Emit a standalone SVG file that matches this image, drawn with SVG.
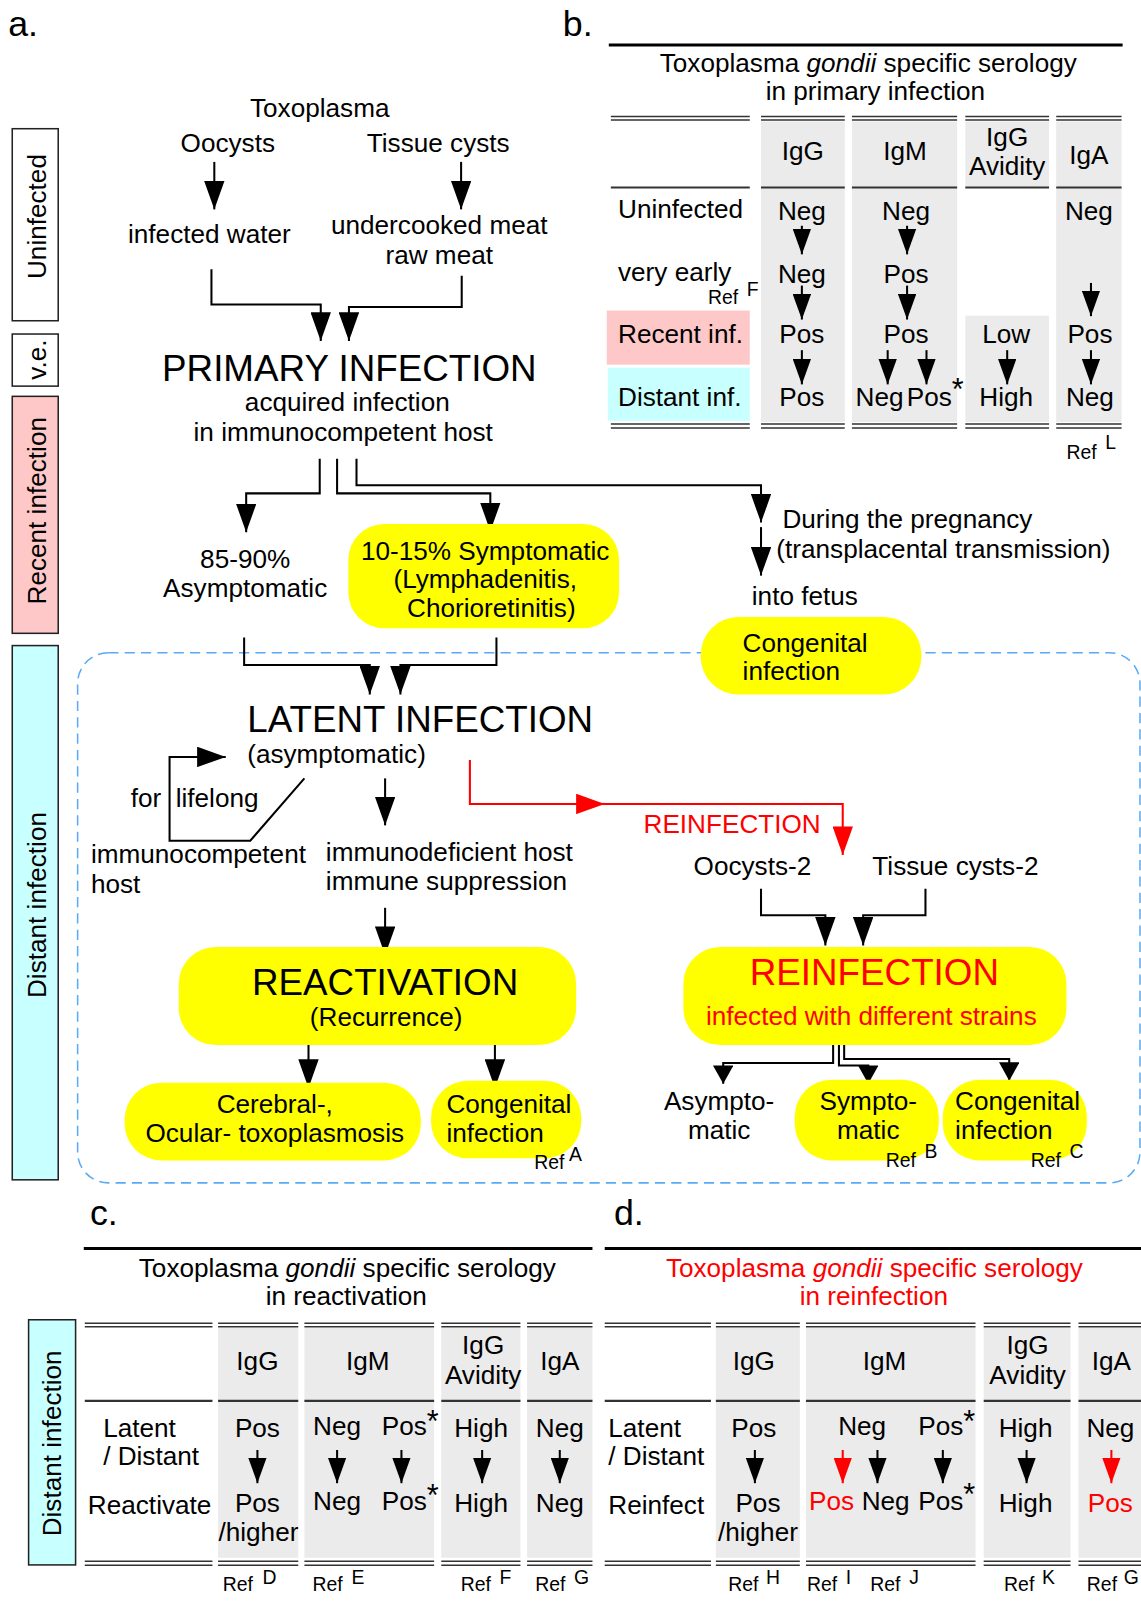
<svg xmlns="http://www.w3.org/2000/svg" width="1141" height="1601" viewBox="0 0 1141 1601">
<style>
.t{font-family:"Liberation Sans",Arial,Helvetica,sans-serif;font-size:25.6px;fill:#000}
.m{text-anchor:middle}
.big{font-size:36px}
.lab{font-size:35px}
.ref{font-size:19px}
.ast{font-size:30px}
.red{fill:#f00}
.ln{stroke:#000;stroke-width:2;fill:none}
.lr{stroke:#f00;stroke-width:2;fill:none}
.dl{stroke:#333;stroke-width:1.5;fill:none}
.hl{stroke:#333;stroke-width:2;fill:none}
.top{stroke:#000;stroke-width:3;fill:none}
.gray{fill:#ebebeb}
.yel{fill:#ffff00}
.side{stroke:#222;stroke-width:1.5}
</style>
<defs>
<marker id="ah" markerUnits="userSpaceOnUse" viewBox="0 0 28 20" refX="28" refY="10" markerWidth="28" markerHeight="20" orient="auto"><path d="M0,0 L28,10 L0,20 z" fill="#000"/></marker>
<marker id="ahr" markerUnits="userSpaceOnUse" viewBox="0 0 28 20" refX="28" refY="10" markerWidth="28" markerHeight="20" orient="auto"><path d="M0,0 L28,10 L0,20 z" fill="#f00"/></marker>
<marker id="ab" markerUnits="userSpaceOnUse" viewBox="0 0 18 20" refX="18" refY="10" markerWidth="18" markerHeight="20" orient="auto"><path d="M0,0 L18,10 L0,20 z" fill="#000"/></marker>
<marker id="as" markerUnits="userSpaceOnUse" viewBox="0 0 25 18" refX="25" refY="9" markerWidth="25" markerHeight="18" orient="auto"><path d="M0,0 L25,9 L0,18 z" fill="#000"/></marker>
<marker id="asr" markerUnits="userSpaceOnUse" viewBox="0 0 25 18" refX="25" refY="9" markerWidth="25" markerHeight="18" orient="auto"><path d="M0,0 L25,9 L0,18 z" fill="#f00"/></marker>
</defs>
<rect width="1141" height="1601" fill="#fff"/>
<g transform="scale(1.02149)">

<!-- panel labels -->
<text class="t lab" x="8" y="35">a.</text>
<text class="t lab" x="551" y="35">b.</text>
<text class="t lab" x="88" y="1199">c.</text>
<text class="t lab" x="601" y="1199">d.</text>

<!-- side stage boxes -->
<g id="stage-uninfected"><rect class="side" x="12" y="126" width="45" height="188" fill="#fff"/><text class="t m" transform="translate(45,212) rotate(-90)">Uninfected</text></g>
<g id="stage-ve"><rect class="side" x="12" y="327" width="45" height="51" fill="#fff"/><text class="t m" transform="translate(45,352) rotate(-90)">v.e.</text></g>
<g id="stage-recent"><rect class="side" x="12" y="388" width="45" height="232" fill="#ffc8c8"/><text class="t m" transform="translate(45,500) rotate(-90)">Recent infection</text></g>
<g id="stage-distant"><rect class="side" x="12" y="632" width="45" height="523" fill="#c8ffff"/><text class="t m" transform="translate(45,886) rotate(-90)">Distant infection</text></g>

<!-- dashed distant region -->
<rect x="76" y="639" width="1040" height="519" rx="30" fill="none" stroke="#5aaaf5" stroke-width="1.5" stroke-dasharray="10 6"/>

<!-- connectors -->
<g id="connectors">
<path class="ln" d="M209.8,158.5 V205" marker-end="url(#ah)"/>
<path class="ln" d="M451.4,158.5 V205" marker-end="url(#ah)"/>
<path class="ln" d="M207,263.6 V298 H314 V333.8" marker-end="url(#ah)"/>
<path class="ln" d="M452,270 V300.5 H341.6 V333.8" marker-end="url(#ah)"/>
<path class="ln" d="M313,449 V483 H241 V521" marker-end="url(#ah)"/>
<path class="ln" d="M330,449 V483 H480 V520" marker-end="url(#ah)"/>
<path class="ln" d="M349,449 V475 H745 V511.6" marker-end="url(#ah)"/>
<path class="ln" d="M745,516 V563.5" marker-end="url(#ah)"/>
<path class="ln" d="M239,624 V651 H362 V680" marker-end="url(#ah)"/>
<path class="ln" d="M486,624 V651 H392 V680" marker-end="url(#ah)"/>
<path class="ln" d="M298,762 L245,823 H166 V741 H221" marker-end="url(#ah)"/>
<path class="ln" d="M377,762 V808" marker-end="url(#ah)"/>
<path class="lr" d="M460,744 V787 H825 V837" marker-end="url(#ahr)"/>
<path class="lr" d="M570,787 H592" marker-end="url(#ahr)"/>
<path class="ln" d="M377,888.7 V935" marker-end="url(#ah)"/>
<path class="ln" d="M302,1018 V1065" marker-end="url(#ah)"/>
<path class="ln" d="M484.5,1018 V1065" marker-end="url(#ah)"/>
<path class="ln" d="M745,870 V896 H808 V925.7" marker-end="url(#ah)"/>
<path class="ln" d="M906,870 V896 H845 V925.7" marker-end="url(#ah)"/>
<path class="ln" d="M815.6,1023 V1040.7 H708 V1061" marker-end="url(#ab)"/>
<path class="ln" d="M821.3,1023 V1043 H850 V1061" marker-end="url(#ab)"/>
<path class="ln" d="M826.4,1023 V1036.8 H988 V1058" marker-end="url(#ab)"/>
</g>

<!-- panel a nodes -->
<g id="n-toxo"><text class="t m" x="313" y="115">Toxoplasma</text></g>
<g id="n-oocysts"><text class="t m" x="223" y="149">Oocysts</text></g>
<g id="n-tissue"><text class="t m" x="429" y="149">Tissue cysts</text></g>
<g id="n-water"><text class="t m" x="205" y="238">infected water</text></g>
<g id="n-meat"><text class="t m" x="430" y="229">undercooked meat</text><text class="t m" x="430" y="258">raw meat</text></g>
<g id="n-primary"><text class="t m big" x="342" y="373">PRIMARY INFECTION</text><text class="t m" x="340" y="402">acquired infection</text><text class="t m" x="336" y="432">in immunocompetent host</text></g>
<g id="n-asym"><text class="t m" x="240" y="556">85-90%</text><text class="t m" x="240" y="584">Asymptomatic</text></g>
<g id="n-sym"><rect class="yel" x="341" y="513" width="265" height="102" rx="35"/><text class="t m" x="475" y="548">10-15% Symptomatic</text><text class="t m" x="475" y="576">(Lymphadenitis,</text><text class="t m" x="481" y="604">Chorioretinitis)</text></g>
<g id="n-preg"><text class="t" x="766" y="517">During the pregnancy</text><text class="t" x="760" y="546">(transplacental transmission)</text><text class="t" x="736" y="592">into fetus</text></g>
<g id="n-cong1"><rect class="yel" x="686" y="604" width="216" height="76" rx="37"/><text class="t" x="727" y="638">Congenital</text><text class="t" x="727" y="666">infection</text></g>
<g id="n-latent"><text class="t big" x="242" y="717">LATENT INFECTION</text><text class="t" x="242" y="747">(asymptomatic)</text></g>
<g id="n-lifelong"><text class="t" x="128" y="790">for</text><text class="t" x="172" y="790">lifelong</text></g>
<g id="n-immcomp"><text class="t" x="89" y="845">immunocompetent</text><text class="t" x="89" y="874">host</text></g>
<g id="n-immdef"><text class="t" x="319" y="843">immunodeficient host</text><text class="t" x="319" y="871">immune suppression</text></g>
<g id="n-reinf-label"><text class="t red" x="630" y="815">REINFECTION</text></g>
<g id="n-oocysts2"><text class="t" x="679" y="857">Oocysts-2</text></g>
<g id="n-tissue2"><text class="t" x="854" y="857">Tissue cysts-2</text></g>
<g id="n-react"><rect class="yel" x="175" y="927" width="389" height="96" rx="36"/><text class="t m big" x="377" y="974">REACTIVATION</text><text class="t m" x="378" y="1004">(Recurrence)</text></g>
<g id="n-cerebral"><rect class="yel" x="122" y="1060" width="290" height="76" rx="36"/><text class="t m" x="269" y="1090">Cerebral-,</text><text class="t m" x="269" y="1118">Ocular- toxoplasmosis</text></g>
<g id="n-cong2"><rect class="yel" x="422" y="1058" width="147" height="76" rx="36"/><text class="t" x="437" y="1090">Congenital</text><text class="t" x="437" y="1118">infection</text><text class="t ref" x="523" y="1144">Ref</text><text class="t ref" x="557" y="1137">A</text></g>
<g id="n-reinf"><rect class="yel" x="669" y="927" width="375" height="96" rx="36"/><text class="t m big red" x="856" y="964">REINFECTION</text><text class="t m red" x="853" y="1003">infected with different strains</text></g>
<g id="n-asym2"><text class="t m" x="704" y="1087">Asympto-</text><text class="t m" x="704" y="1115">matic</text></g>
<g id="n-sym2"><rect class="yel" x="778" y="1057" width="141" height="79" rx="36"/><text class="t m" x="850" y="1087">Sympto-</text><text class="t m" x="850" y="1115">matic</text><text class="t ref" x="867" y="1142">Ref</text><text class="t ref" x="905" y="1134">B</text></g>
<g id="n-cong3"><rect class="yel" x="923" y="1057" width="141" height="79" rx="36"/><text class="t" x="935" y="1087">Congenital</text><text class="t" x="935" y="1115">infection</text><text class="t ref" x="1009" y="1142">Ref</text><text class="t ref" x="1047" y="1134">C</text></g>

<!-- table b -->
<g id="table-b">
<path class="top" d="M596,44 H1099"/>
<text class="t m" x="850" y="70">Toxoplasma <tspan font-style="italic">gondii</tspan> specific serology</text>
<text class="t m" x="857" y="98">in primary infection</text>
<rect class="gray" x="745" y="119" width="82" height="294"/>
<rect class="gray" x="834" y="119" width="103" height="294"/>
<rect class="gray" x="945" y="119" width="82" height="64"/>
<rect class="gray" x="945" y="309" width="82" height="104"/>
<rect class="gray" x="1034" y="119" width="64" height="294"/>
<rect x="594" y="304" width="140" height="53" fill="#ffc8c8"/>
<rect x="595" y="360" width="139" height="52" fill="#c8ffff"/>
<path class="dl" d="M598,114 H734 M745,114 H827 M834,114 H937 M945,114 H1027 M1034,114 H1098 M598,117.5 H734 M745,117.5 H827 M834,117.5 H937 M945,117.5 H1027 M1034,117.5 H1098"/>
<path class="hl" d="M598,183.5 H734 M745,183.5 H827 M834,183.5 H937 M945,183.5 H1027 M1034,183.5 H1098"/>
<path class="dl" d="M598,415 H734 M745,415 H827 M834,415 H937 M945,415 H1027 M1034,415 H1098 M598,419 H734 M745,419 H827 M834,419 H937 M945,419 H1027 M1034,419 H1098"/>
<text class="t m" x="786" y="157">IgG</text>
<text class="t m" x="886" y="157">IgM</text>
<text class="t m" x="986" y="143">IgG</text>
<text class="t m" x="986" y="171">Avidity</text>
<text class="t m" x="1066" y="161">IgA</text>
<text class="t" x="605" y="213">Uninfected</text>
<text class="t" x="605" y="275">very early</text>
<text class="t ref" x="693" y="298">Ref</text><text class="t ref" x="731" y="290">F</text>
<text class="t" x="605" y="336">Recent inf.</text>
<text class="t" x="605" y="397">Distant inf.</text>
<text class="t m" x="785" y="215">Neg</text>
<text class="t m" x="785" y="277">Neg</text>
<text class="t m" x="785" y="336">Pos</text>
<text class="t m" x="785" y="397">Pos</text>
<text class="t m" x="887" y="215">Neg</text>
<text class="t m" x="887" y="277">Pos</text>
<text class="t m" x="887" y="336">Pos</text>
<text class="t m" x="861" y="397">Neg</text>
<text class="t" x="887.7" y="397">Pos<tspan class="ast" dy="-5">*</tspan></text>
<text class="t m" x="985" y="336">Low</text>
<text class="t m" x="985" y="397">High</text>
<text class="t m" x="1066" y="215">Neg</text>
<text class="t m" x="1067" y="336">Pos</text>
<text class="t m" x="1067" y="397">Neg</text>
<text class="t ref" x="1044" y="449">Ref</text><text class="t ref" x="1082" y="440">L</text>
<path class="ln" d="M785,221 V249" marker-end="url(#as)"/>
<path class="ln" d="M785,279.6 V312.8" marker-end="url(#as)"/>
<path class="ln" d="M785,342.8 V376.3" marker-end="url(#as)"/>
<path class="ln" d="M888,221 V249" marker-end="url(#as)"/>
<path class="ln" d="M888,279.6 V312.8" marker-end="url(#as)"/>
<path class="ln" d="M869,342.8 V376.3" marker-end="url(#as)"/>
<path class="ln" d="M907,342.8 V376.3" marker-end="url(#as)"/>
<path class="ln" d="M986,342.8 V376.3" marker-end="url(#as)"/>
<path class="ln" d="M1068,277 V309.5" marker-end="url(#as)"/>
<path class="ln" d="M1068,342.8 V376.3" marker-end="url(#as)"/>
</g>

<!-- table c -->
<g id="table-c">
<rect class="side" x="28" y="1292" width="46" height="240" fill="#c8ffff"/>
<text class="t m" transform="translate(60,1413) rotate(-90)">Distant infection</text>
<path class="top" d="M82,1222.3 H580"/>
<text class="t m" x="340" y="1250.5">Toxoplasma <tspan font-style="italic">gondii</tspan> specific serology</text>
<text class="t m" x="339" y="1278">in reactivation</text>
<rect class="gray" x="213.5" y="1300" width="78.5" height="225"/>
<rect class="gray" x="298" y="1300" width="127" height="225"/>
<rect class="gray" x="432" y="1300" width="77.5" height="225"/>
<rect class="gray" x="516" y="1300" width="64" height="225"/>
<path class="dl" d="M83,1295.4 H208 M213.5,1295.4 H292 M298,1295.4 H425 M432,1295.4 H509.5 M516,1295.4 H580 M83,1298.8 H208 M213.5,1298.8 H292 M298,1298.8 H425 M432,1298.8 H509.5 M516,1298.8 H580"/>
<path class="hl" d="M83,1371.4 H208 M213.5,1371.4 H292 M298,1371.4 H425 M432,1371.4 H509.5 M516,1371.4 H580"/>
<path class="dl" d="M83,1528.4 H208 M213.5,1528.4 H292 M298,1528.4 H425 M432,1528.4 H509.5 M516,1528.4 H580 M83,1532.3 H208 M213.5,1532.3 H292 M298,1532.3 H425 M432,1532.3 H509.5 M516,1532.3 H580"/>
<text class="t m" x="252" y="1341.5">IgG</text>
<text class="t m" x="360" y="1341.5">IgM</text>
<text class="t m" x="473" y="1325.3">IgG</text>
<text class="t m" x="473" y="1354.5">Avidity</text>
<text class="t m" x="548" y="1341.5">IgA</text>
<text class="t" x="101" y="1406.5">Latent</text>
<text class="t" x="101" y="1434">/ Distant</text>
<text class="t" x="86" y="1482">Reactivate</text>
<text class="t m" x="252" y="1406.5">Pos</text>
<text class="t m" x="252" y="1480">Pos</text>
<text class="t m" x="253" y="1509">/higher</text>
<text class="t m" x="330" y="1405">Neg</text>
<text class="t" x="373.7" y="1405">Pos<tspan class="ast" dy="-3.5">*</tspan></text>
<text class="t m" x="330" y="1478">Neg</text>
<text class="t" x="373.7" y="1478">Pos<tspan class="ast" dy="-3.5">*</tspan></text>
<text class="t m" x="471" y="1406.5">High</text>
<text class="t m" x="471" y="1480">High</text>
<text class="t m" x="548" y="1406.5">Neg</text>
<text class="t m" x="548" y="1480">Neg</text>
<path class="ln" d="M252,1419.5 V1452" marker-end="url(#as)"/>
<path class="ln" d="M330,1419.5 V1452" marker-end="url(#as)"/>
<path class="ln" d="M393,1419.5 V1452" marker-end="url(#as)"/>
<path class="ln" d="M472,1419.5 V1452" marker-end="url(#as)"/>
<path class="ln" d="M548,1419.5 V1452" marker-end="url(#as)"/>
<text class="t ref" x="218" y="1558">Ref</text><text class="t ref" x="257" y="1551">D</text>
<text class="t ref" x="306" y="1558">Ref</text><text class="t ref" x="344" y="1551">E</text>
<text class="t ref" x="451" y="1558">Ref</text><text class="t ref" x="489" y="1551">F</text>
<text class="t ref" x="524" y="1558">Ref</text><text class="t ref" x="562" y="1551">G</text>
</g>

<!-- table d -->
<g id="table-d">
<path class="top" d="M592,1222.3 H1117"/>
<text class="t m red" x="856" y="1250.5">Toxoplasma <tspan font-style="italic">gondii</tspan> specific serology</text>
<text class="t m red" x="855.5" y="1278">in reinfection</text>
<rect class="gray" x="700.8" y="1300" width="82.2" height="225"/>
<rect class="gray" x="789" y="1300" width="166" height="225"/>
<rect class="gray" x="963" y="1300" width="85" height="225"/>
<rect class="gray" x="1055.8" y="1300" width="61.2" height="225"/>
<path class="dl" d="M592,1295.4 H696 M700.8,1295.4 H783 M789,1295.4 H955 M963,1295.4 H1048 M1055.8,1295.4 H1117 M592,1298.8 H696 M700.8,1298.8 H783 M789,1298.8 H955 M963,1298.8 H1048 M1055.8,1298.8 H1117"/>
<path class="hl" d="M592,1371.4 H696 M700.8,1371.4 H783 M789,1371.4 H955 M963,1371.4 H1048 M1055.8,1371.4 H1117"/>
<path class="dl" d="M592,1528.4 H696 M700.8,1528.4 H783 M789,1528.4 H955 M963,1528.4 H1048 M1055.8,1528.4 H1117 M592,1532.3 H696 M700.8,1532.3 H783 M789,1532.3 H955 M963,1532.3 H1048 M1055.8,1532.3 H1117"/>
<text class="t m" x="738" y="1341.5">IgG</text>
<text class="t m" x="866" y="1341.5">IgM</text>
<text class="t m" x="1006" y="1325.3">IgG</text>
<text class="t m" x="1006" y="1354.5">Avidity</text>
<text class="t m" x="1088" y="1341.5">IgA</text>
<text class="t" x="595.5" y="1406.5">Latent</text>
<text class="t" x="595.5" y="1434">/ Distant</text>
<text class="t" x="595.5" y="1482">Reinfect</text>
<text class="t m" x="738" y="1406.5">Pos</text>
<text class="t m" x="742" y="1480">Pos</text>
<text class="t m" x="742" y="1509">/higher</text>
<text class="t m" x="844" y="1405">Neg</text>
<text class="t" x="899" y="1405">Pos<tspan class="ast" dy="-3.5">*</tspan></text>
<text class="t m red" x="814" y="1478">Pos</text>
<text class="t m" x="867" y="1478">Neg</text>
<text class="t" x="899" y="1478">Pos<tspan class="ast" dy="-5">*</tspan></text>
<text class="t m" x="1004" y="1406.5">High</text>
<text class="t m" x="1004" y="1480">High</text>
<text class="t m" x="1087" y="1406.5">Neg</text>
<text class="t m red" x="1087" y="1480">Pos</text>
<path class="ln" d="M739,1419.5 V1452" marker-end="url(#as)"/>
<path class="lr" d="M825,1419.5 V1452" marker-end="url(#asr)"/>
<path class="ln" d="M859,1419.5 V1452" marker-end="url(#as)"/>
<path class="ln" d="M923,1419.5 V1452" marker-end="url(#as)"/>
<path class="ln" d="M1005,1419.5 V1452" marker-end="url(#as)"/>
<path class="lr" d="M1088,1419.5 V1452" marker-end="url(#asr)"/>
<text class="t ref" x="713" y="1558">Ref</text><text class="t ref" x="750" y="1551">H</text>
<text class="t ref" x="790" y="1558">Ref</text><text class="t ref" x="828" y="1551">I</text>
<text class="t ref" x="852" y="1558">Ref</text><text class="t ref" x="890" y="1551">J</text>
<text class="t ref" x="983" y="1558">Ref</text><text class="t ref" x="1020" y="1551">K</text>
<text class="t ref" x="1064" y="1558">Ref</text><text class="t ref" x="1100" y="1551">G</text>
</g>

</g>
</svg>
